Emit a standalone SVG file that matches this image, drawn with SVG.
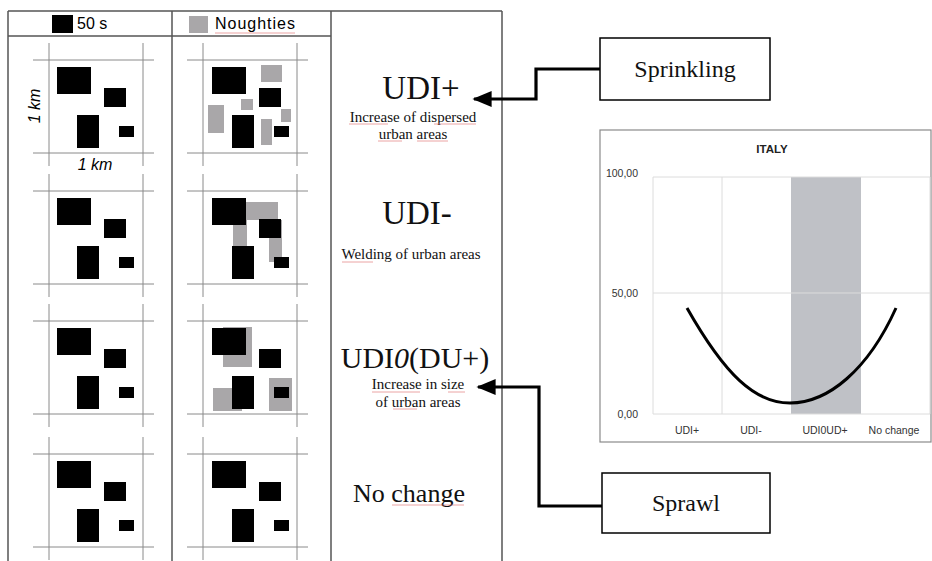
<svg xmlns="http://www.w3.org/2000/svg" width="932" height="561" viewBox="0 0 932 561">
<style>
.tbl{fill:none;stroke:#555;stroke-width:1.5}
.grid{stroke:#8a8a8a;stroke-width:1}
.blk{fill:#000}
.gry{fill:#a9a7a9}
.sans{font-family:"Liberation Sans",Arial,sans-serif}
.serif{font-family:"Liberation Serif","Times New Roman",serif;fill:#111}
.sq{stroke:#e07070;stroke-width:0.9;opacity:0.7}
.box{fill:#fff;stroke:#000;stroke-width:1.5}
.conn{fill:none;stroke:#000;stroke-width:3.2}
.cg{stroke:#dcdcdc;stroke-width:1}
.ax{font-family:"Liberation Sans",Arial,sans-serif;font-size:10.5px;fill:#333}
</style>
<defs>
<marker id="arr" markerWidth="6" markerHeight="5" refX="5.5" refY="2.5" orient="auto" markerUnits="strokeWidth">
<path d="M0,0 L6,2.5 L0,5 z" fill="#000"/>
</marker>
<g id="cellgrid">
<line class="grid" x1="49" y1="-17" x2="49" y2="106"/>
<line class="grid" x1="143" y1="-17" x2="143" y2="106"/>
<line class="grid" x1="33" y1="0" x2="154" y2="0"/>
<line class="grid" x1="33" y1="93" x2="154" y2="93"/>
</g>
<g id="base">
<rect class="blk" x="57" y="7" width="34" height="27"/>
<rect class="blk" x="104" y="28" width="22" height="19"/>
<rect class="blk" x="77" y="55" width="22" height="33"/>
<rect class="blk" x="119" y="66" width="15" height="11"/>
</g>
</defs>
<rect width="932" height="561" fill="#fff"/>

<g id="table">
<line class="tbl" x1="8" y1="11" x2="502" y2="11"/>
<line class="tbl" x1="8" y1="36" x2="331" y2="36"/>
<line class="tbl" x1="8" y1="11" x2="8" y2="561"/>
<line class="tbl" x1="172" y1="11" x2="172" y2="561"/>
<line class="tbl" x1="331" y1="11" x2="331" y2="561"/>
<line class="tbl" x1="502" y1="11" x2="502" y2="561"/>
</g>

<g id="header">
<rect class="blk" x="52" y="15" width="21" height="18"/>
<text class="sans" x="77" y="29" font-size="16">50 s</text>
<rect class="gry" x="189" y="16" width="19" height="17"/>
<text class="sans" x="215" y="29" font-size="16" textLength="80">Noughties</text>
<line class="sq" x1="215" y1="33" x2="295" y2="33"/>
</g>

<g id="row1-50s">
<use href="#cellgrid" y="60"/>
<use href="#base" y="60"/>
<text class="sans" font-size="16" font-style="italic" text-anchor="middle" transform="translate(40,106) rotate(-90)">1 km</text>
<text class="sans" x="95" y="170" font-size="16" font-style="italic" text-anchor="middle">1 km</text>
</g>
<g id="row1-noughties">
<use href="#cellgrid" x="154" y="60"/>
<rect class="gry" x="261" y="65" width="21" height="17"/>
<rect class="gry" x="208" y="105" width="16" height="28"/>
<rect class="gry" x="241" y="99" width="12" height="11"/>
<rect class="gry" x="261" y="119" width="11" height="26"/>
<rect class="gry" x="281" y="109" width="10" height="13"/>
<use href="#base" x="155" y="60"/>
</g>

<g id="row2-50s">
<use href="#cellgrid" y="191"/>
<use href="#base" y="191"/>
</g>
<g id="row2-noughties">
<use href="#cellgrid" x="154" y="191"/>
<rect class="gry" x="244" y="202" width="34" height="18"/>
<rect class="gry" x="233" y="220" width="14" height="28"/>
<rect class="gry" x="269" y="220" width="13" height="42"/>
<use href="#base" x="155" y="191"/>
</g>

<g id="row3-50s">
<use href="#cellgrid" y="321"/>
<use href="#base" y="321"/>
</g>
<g id="row3-noughties">
<use href="#cellgrid" x="154" y="321"/>
<rect class="gry" x="223" y="327" width="29" height="40"/>
<rect class="gry" x="213" y="388" width="29" height="23"/>
<rect class="gry" x="269" y="378" width="23" height="33"/>
<use href="#base" x="155" y="321"/>
</g>

<g id="row4-50s">
<use href="#cellgrid" y="454"/>
<use href="#base" y="454"/>
</g>
<g id="row4-noughties">
<use href="#cellgrid" x="154" y="454"/>
<use href="#base" x="155" y="454"/>
</g>

<g id="udi-plus">
<text class="serif" x="421" y="99" font-size="33" text-anchor="middle">UDI+</text>
<text class="serif" x="413" y="122" font-size="15" text-anchor="middle">Increase of dispersed</text>
<text class="serif" x="413" y="139" font-size="15" text-anchor="middle">urban areas</text>
<line class="sq" x1="349" y1="124" x2="388" y2="124"/>
<line class="sq" x1="434" y1="124" x2="476" y2="124"/>
<line class="sq" x1="378" y1="141" x2="402" y2="141"/>
<line class="sq" x1="417" y1="141" x2="448" y2="141"/>
</g>
<g id="udi-minus">
<text class="serif" x="417" y="224" font-size="33" text-anchor="middle">UDI-</text>
<text class="serif" x="411" y="259" font-size="15" text-anchor="middle">Welding of urban areas</text>
<line class="sq" x1="342" y1="262" x2="373" y2="262"/>
</g>
<g id="udi-zero">
<text class="serif" x="415" y="368" font-size="30" text-anchor="middle">UDI<tspan font-style="italic">0</tspan>(DU+)</text>
<text class="serif" x="418" y="389" font-size="15" text-anchor="middle">Increase in size</text>
<text class="serif" x="418" y="407" font-size="15" text-anchor="middle">of urban areas</text>
<line class="sq" x1="372" y1="392" x2="420" y2="392"/>
<line class="sq" x1="448" y1="392" x2="465" y2="392"/>
<line class="sq" x1="393" y1="409" x2="417" y2="409"/>
</g>
<g id="no-change">
<text class="serif" x="409" y="502" font-size="26" text-anchor="middle">No change</text>
<line class="sq" x1="392" y1="505" x2="464" y2="505"/>
</g>

<g id="sprinkling">
<rect class="box" x="600" y="38" width="170" height="62"/>
<text class="serif" x="685" y="77" font-size="24" text-anchor="middle">Sprinkling</text>
</g>
<g id="sprawl">
<rect class="box" x="602" y="473" width="168" height="60"/>
<text class="serif" x="686" y="511" font-size="24" text-anchor="middle">Sprawl</text>
</g>

<g id="connectors">
<path class="conn" d="M600,69 H536 V99 H474" marker-end="url(#arr)"/>
<path class="conn" d="M602,506 H539 V387 H478" marker-end="url(#arr)"/>
</g>

<g id="chart">
<rect x="600" y="130" width="331" height="312" fill="#fff" stroke="#8a8a8a" stroke-width="1.2"/>
<rect x="791" y="177" width="70" height="237" fill="#bfc1c6"/>
<line class="cg" x1="653" y1="177" x2="930" y2="177"/>
<line class="cg" x1="653" y1="293" x2="930" y2="293"/>
<line class="cg" x1="653" y1="414" x2="930" y2="414"/>
<line class="cg" x1="653" y1="177" x2="653" y2="414"/>
<line class="cg" x1="722" y1="177" x2="722" y2="414"/>
<line class="cg" x1="930" y1="177" x2="930" y2="414"/>
<text x="772" y="153" font-family="Liberation Sans,Arial,sans-serif" font-size="11.5" font-weight="bold" text-anchor="middle" fill="#222">ITALY</text>
<text class="ax" x="638" y="177" text-anchor="end">100,00</text>
<text class="ax" x="638" y="297" text-anchor="end">50,00</text>
<text class="ax" x="638" y="418" text-anchor="end">0,00</text>
<text class="ax" x="687" y="434" text-anchor="middle">UDI+</text>
<text class="ax" x="751" y="434" text-anchor="middle">UDI-</text>
<text class="ax" x="825" y="434" text-anchor="middle">UDI0UD+</text>
<text class="ax" x="894" y="434" text-anchor="middle">No change</text>
<path d="M687,308 C725,375 755,403 790,403 C828,403 868,370 896,308" fill="none" stroke="#000" stroke-width="3"/>
</g>
</svg>
